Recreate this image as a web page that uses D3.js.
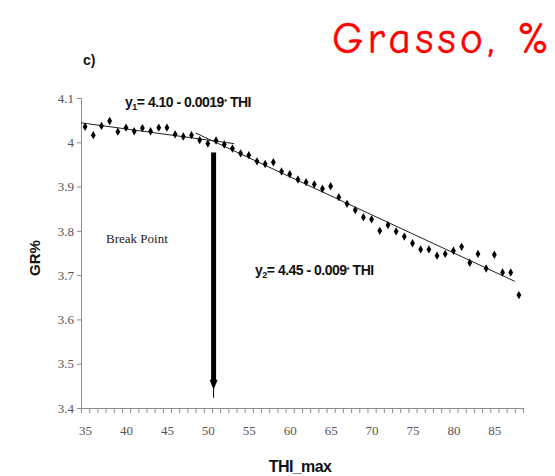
<!DOCTYPE html>
<html>
<head>
<meta charset="utf-8">
<script src="https://cdn.jsdelivr.net/npm/d3@7"></script>
<style>
  body { margin: 0; background: #fff; }
  svg { display: block; }
</style>
</head>
<body>
<div id="chart"></div>
<script>
// THI_max categories and mean fat %
const thi = d3.range(35, 89);
const fat = [
  4.035, 4.016, 4.037, 4.048, 4.024, 4.033, 4.025, 4.032, 4.025, 4.033,
  4.033, 4.018, 4.013, 4.016, 4.005, 3.997, 4.004, 3.995, 3.986, 3.975,
  3.971, 3.957, 3.951, 3.955, 3.934, 3.928, 3.916, 3.910, 3.905, 3.895,
  3.901, 3.876, 3.861, 3.847, 3.831, 3.826, 3.800, 3.813, 3.799, 3.787,
  3.772, 3.758, 3.758, 3.744, 3.748, 3.755, 3.764, 3.728, 3.748, 3.715,
  3.746, 3.706, 3.706, 3.655
];
// regression segments [thi, value]
const line1 = [[34.5, 4.044], [53.2, 3.997]];
const line2 = [[48.5, 4.021], [87.5, 3.686]];
// break point arrow
const breakThi = 50.7;
const arrowTop = 3.977, arrowBottom = 3.423;

const xTicks = d3.range(35, 90, 5);
const yTicks = [3.4, 3.5, 3.6, 3.7, 3.8, 3.9, 4.0, 4.1];

const width = 555, height = 476;
const margin = {top: 98, right: 32, bottom: 68, left: 81};

const svg = d3.select("#chart").append("svg")
    .attr("width", width)
    .attr("height", height);

const x = d3.scaleLinear()
    .domain([34.5, 88.5])
    .range([margin.left, width - margin.right]);

const y = d3.scaleLinear()
    .domain([3.4, 4.1])
    .range([height - margin.bottom, margin.top]);

const axisColor = "#8c8c8c";
const labelFont = "'Liberation Serif', 'Times New Roman', serif";

// x axis: minor ticks at every category boundary
const xg = svg.append("g")
    .attr("transform", `translate(0,${y(3.4)})`)
    .call(d3.axisBottom(x).tickValues(d3.range(34.5, 89, 1)).tickSize(5).tickFormat(""));
xg.select(".domain").attr("stroke", axisColor);
xg.selectAll(".tick line").attr("stroke", axisColor);

const xl = svg.append("g")
    .attr("transform", `translate(0,${y(3.4)})`)
    .call(d3.axisBottom(x).tickValues(xTicks).tickSize(0).tickPadding(18));
xl.select(".domain").remove();
xl.selectAll("text")
    .attr("font-family", labelFont)
    .attr("font-size", 13)
    .attr("fill", "#555");

// y axis
const yg = svg.append("g")
    .attr("transform", `translate(${x(34.5)},0)`)
    .call(d3.axisLeft(y).tickValues(yTicks).tickSize(4).tickPadding(3)
        .tickFormat(d => d3.format("")(+d.toFixed(1))));
yg.select(".domain").attr("stroke", axisColor);
yg.selectAll(".tick line").attr("stroke", axisColor);
yg.selectAll("text")
    .attr("font-family", labelFont)
    .attr("font-size", 13)
    .attr("fill", "#555");

// regression lines
const line = d3.line().x(d => x(d[0])).y(d => y(d[1]));
svg.append("path").attr("d", line(line1))
    .attr("fill", "none").attr("stroke", "#222").attr("stroke-width", 1);
svg.append("path").attr("d", line(line2))
    .attr("fill", "none").attr("stroke", "#222").attr("stroke-width", 1);

// data points (diamonds)
svg.append("g")
    .selectAll("path")
    .data(thi.map((t, i) => [t, fat[i]]))
    .enter().append("path")
    .attr("transform", d => `translate(${x(d[0])},${y(d[1])})`)
    .attr("d", d3.symbol(d3.symbolDiamond, 20))
    .attr("fill", "#000");

// break point arrow
const ax = x(breakThi);
svg.append("rect")
    .attr("x", ax - 2.5)
    .attr("y", y(arrowTop))
    .attr("width", 5)
    .attr("height", y(arrowBottom) - y(arrowTop) - 16)
    .attr("fill", "#000");
svg.append("path")
    .attr("d", `M${ax - 4},${y(arrowBottom) - 18} L${ax + 4},${y(arrowBottom) - 18} L${ax},${y(arrowBottom) - 8} Z`)
    .attr("fill", "#000");
svg.append("line")
    .attr("x1", ax).attr("x2", ax)
    .attr("y1", y(arrowBottom) - 10).attr("y2", y(arrowBottom))
    .attr("stroke", "#000").attr("stroke-width", 1);

// equations
const eqFont = "'Liberation Sans Narrow', 'Liberation Sans', Arial, sans-serif";
function equation(xp, yp, sub, rest) {
    const t = svg.append("text")
        .attr("x", xp).attr("y", yp)
        .attr("font-family", eqFont)
        .attr("font-size", 14)
        .attr("font-weight", "bold")
        .attr("letter-spacing", -0.5)
        .attr("fill", "#111");
    t.append("tspan").text("y");
    t.append("tspan").attr("font-size", 9).attr("dy", 3).text(sub);
    t.append("tspan").attr("dy", -3).text(rest);
    t.append("tspan").attr("font-size", 8).attr("dy", -3).text("*");
    t.append("tspan").attr("dy", 3).text(" THI");
}
equation(125, 107, "1", "= 4.10 - 0.0019");
equation(255, 275, "2", "= 4.45 - 0.009");

svg.append("text")
    .attr("x", 106).attr("y", 243)
    .attr("font-family", labelFont)
    .attr("font-size", 13)
    .attr("fill", "#222")
    .text("Break Point");

// axis titles
svg.append("text")
    .attr("x", 300).attr("y", 472)
    .attr("text-anchor", "middle")
    .attr("font-family", eqFont)
    .attr("font-size", 16)
    .attr("font-weight", "bold")
    .attr("letter-spacing", -0.6)
    .attr("fill", "#111")
    .text("THI_max");

svg.append("text")
    .attr("transform", "translate(40,258) rotate(-90)")
    .attr("text-anchor", "middle")
    .attr("font-family", "'Liberation Sans', Arial, sans-serif")
    .attr("font-size", 15)
    .attr("font-weight", "bold")
    .attr("fill", "#111")
    .text("GR%");

// panel letter
svg.append("text")
    .attr("x", 83).attr("y", 65)
    .attr("font-family", "'Liberation Sans', Arial, sans-serif")
    .attr("font-size", 14)
    .attr("font-weight", "bold")
    .attr("fill", "#111")
    .text("c)");

// red title
svg.append("text")
    .attr("x", 332).attr("y", 53)
    .attr("textLength", 217)
    .attr("lengthAdjust", "spacing")
    .attr("font-family", "'Comic Sans MS', 'Comic Neue', 'DejaVu Sans', sans-serif")
    .attr("font-size", 44)
    .attr("fill", "#ff0000")
    .attr("stroke", "#ff0000")
    .attr("stroke-width", 0.4)
    .text("Grasso, %");
</script>
</body>
</html>
